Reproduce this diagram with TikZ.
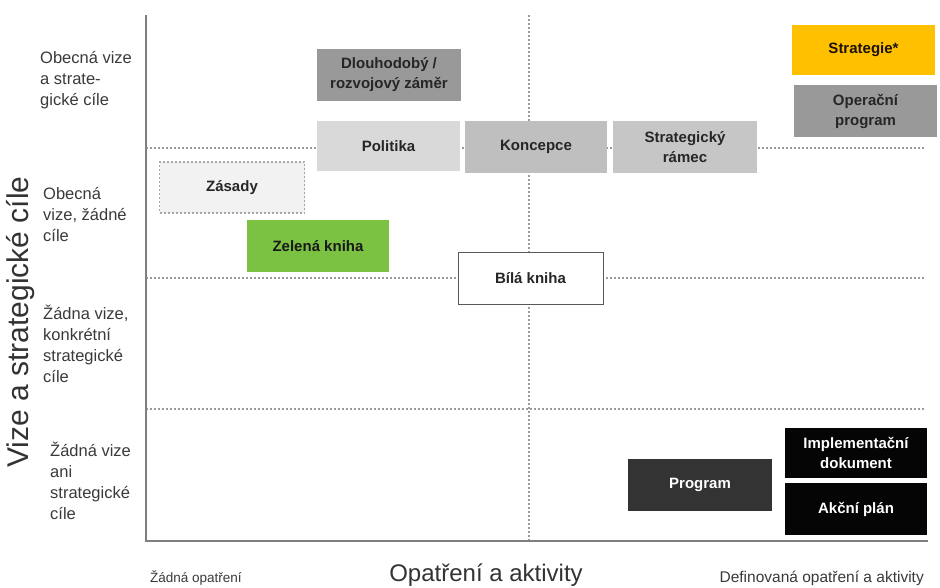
\documentclass[tikz,border=0pt]{standalone}
\usepackage{fontspec}
\setmainfont{Liberation Sans}
\definecolor{gridc}{HTML}{9A9A9A}
\definecolor{axisc}{HTML}{7F7F7F}
\definecolor{txtc}{HTML}{3A3A3A}
\definecolor{boxtxt}{HTML}{262626}
\definecolor{midgray}{HTML}{999999}
\definecolor{lightgray}{HTML}{D9D9D9}
\definecolor{koncgray}{HTML}{BFBFBF}
\definecolor{ramgray}{HTML}{C6C6C6}
\definecolor{zasfill}{HTML}{F2F2F2}
\definecolor{zasborder}{HTML}{A6A6A6}
\definecolor{greenc}{HTML}{7CC242}
\definecolor{yellowc}{HTML}{FFC000}
\definecolor{darkc}{HTML}{333333}
\definecolor{blackc}{HTML}{050505}
\begin{document}
\begin{tikzpicture}[x=1pt,y=-1pt,
  box/.style={rectangle, inner sep=0pt, align=center, text=boxtxt,
    font=\fontsize{15}{20}\selectfont\bfseries},
  gridline/.style={draw=gridc, line width=1.5pt, dash pattern=on 2pt off 2pt},
  axisline/.style={draw=axisc, line width=2pt},
  lbl/.style={anchor=north west, align=left, inner sep=0pt, text=txtc,
    font=\fontsize{16.5}{21}\selectfont}
]
\useasboundingbox (0,0) rectangle (940,587);
\fill[white] (0,0) rectangle (940,587);

% coordinates for grid
\coordinate (h1l) at (146,148); \coordinate (h1r) at (925,148);
\coordinate (h2l) at (146,278); \coordinate (h2r) at (925,278);
\coordinate (h3l) at (146,409); \coordinate (h3r) at (925,409);
\coordinate (vt) at (529,15); \coordinate (vb) at (529,541);
\coordinate (ot) at (146,15); \coordinate (oo) at (146,541); \coordinate (xr) at (928,541);

\draw[gridline] (h1l) -- (h1r);
\draw[gridline] (h2l) -- (h2r);
\draw[gridline] (h3l) -- (h3r);
\draw[gridline] (vt) -- (vb);
\draw[axisline] (ot) -- (oo) -- (xr);

% boxes
\node[box, fill=midgray, minimum width=144pt, minimum height=52pt] (dlo) at (389,75) {Dlouhodobý /\\rozvojový záměr};
\node[box, fill=lightgray, minimum width=143pt, minimum height=50pt] (pol) at (388.5,146) {Politika};
\node[box, fill=koncgray, minimum width=142pt, minimum height=52pt] (kon) at (536,147) {Koncepce};
\node[box, fill=ramgray, minimum width=144pt, minimum height=52pt] (ram) at (685,147) {Strategický\\rámec};
\node[box, fill=yellowc, minimum width=143pt, minimum height=50pt, text=black!85!brown] (str) at (863.5,50) {Strategie*};
\node[box, fill=midgray, minimum width=143pt, minimum height=52pt] (opr) at (865.5,111) {Operační\\program};
\node[box, fill=zasfill, draw=zasborder, line width=1.2pt, dash pattern=on 2pt off 2pt, minimum width=145pt, minimum height=51pt] (zas) at (232,187.5) {Zásady};
\node[box, fill=greenc, minimum width=142pt, minimum height=52pt, text=black!90] (zel) at (318,246) {Zelená kniha};
\node[box, fill=white, draw=black!65, line width=1pt, minimum width=145pt, minimum height=52pt] (bil) at (530.5,278.5) {Bílá kniha};
\node[box, fill=darkc, text=white, minimum width=144pt, minimum height=52pt] (prg) at (700,485) {Program};
\node[box, fill=blackc, text=white, minimum width=142pt, minimum height=50pt] (imp) at (856,453) {Implementační\\dokument};
\node[box, fill=blackc, text=white, minimum width=142pt, minimum height=52pt] (akc) at (856,509) {Akční plán};

% left labels
\node[lbl] (l1) at (40,51) {Obecná vize\\a strate-\\gické cíle};
\node[lbl] (l2) at (43,187) {Obecná\\vize, žádné\\cíle};
\node[lbl] (l3) at (43,305) {Žádna vize,\\konkrétní\\strategické\\cíle};
\node[lbl] (l4) at (50,442) {Žádná vize\\ani\\strategické\\cíle};

% axis titles
\node[rotate=90, inner sep=0pt, text=black!80, font=\fontsize{30}{30}\selectfont] (yt) at (21,322) {Vize a strategické cíle};
\node[inner sep=0pt, text=black!80, font=\fontsize{24}{24}\selectfont] (xt) at (486,575) {Opatření a aktivity};
\node[anchor=west, inner sep=0pt, text=txtc, font=\fontsize{13.5}{13.5}\selectfont] (xl) at (150,578) {Žádná opatření};
\node[anchor=east, inner sep=0pt, text=txtc, font=\fontsize{15.5}{15.5}\selectfont] (xrr) at (924,578) {Definovaná opatření a aktivity};
\end{tikzpicture}
\end{document}
